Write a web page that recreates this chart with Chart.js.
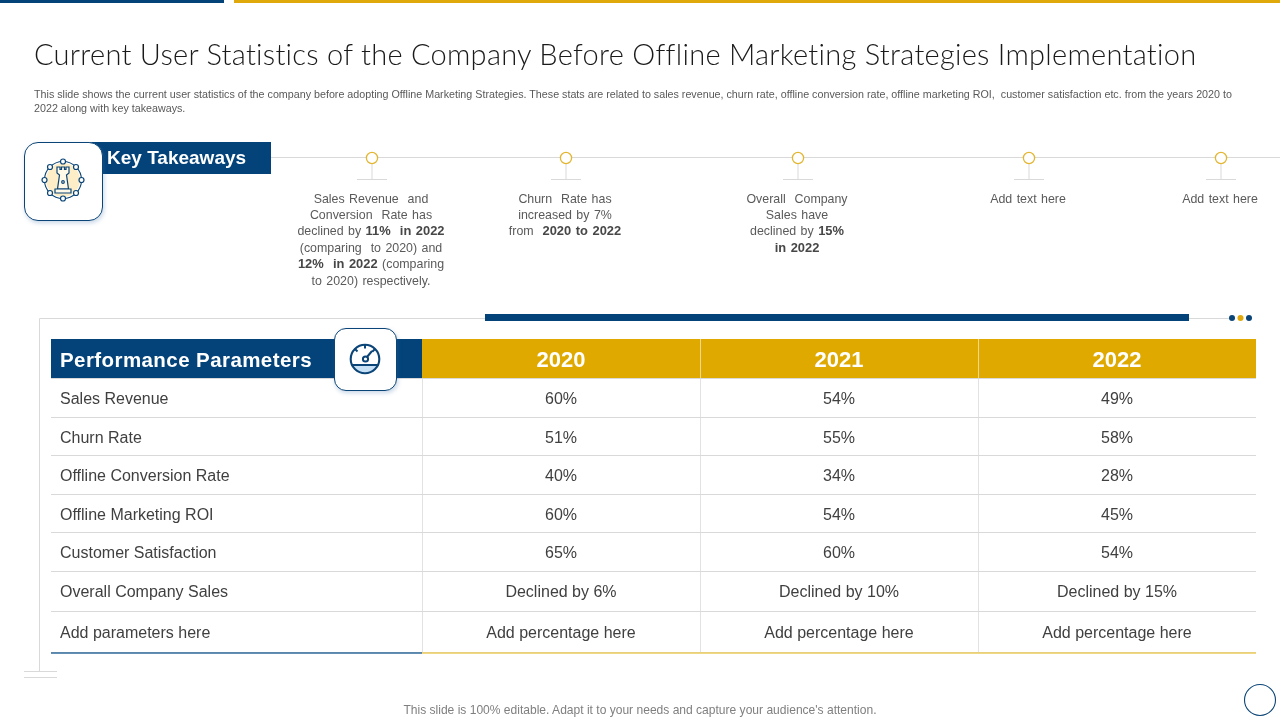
<!DOCTYPE html>
<html><head><meta charset="utf-8">
<script src="https://cdn.jsdelivr.net/npm/chart.js@4"></script>
<style>
html,body{margin:0;padding:0;background:#fff;width:1280px;height:720px;overflow:hidden;font-family:"Liberation Sans",Arial,sans-serif}
#c{position:absolute;left:0;top:0;width:1280px;height:720px}
.a{position:absolute}
.t{position:absolute;white-space:nowrap}
.take{position:absolute;top:190.5px;width:220px;margin-left:-110px;text-align:center;font-size:12.4px;line-height:16.4px;color:#5a5a5a;word-spacing:1px;white-space:nowrap}
.take b{color:#474747;font-size:12.9px}
.box{position:absolute;box-sizing:border-box;background:#fff;border:1px solid #0b4577;box-shadow:1px 2px 4px rgba(60,110,170,.28)}
</style></head><body>
<canvas id="c" width="1280" height="720"></canvas>

<div class="a" style="left:0;top:0;width:224px;height:3px;background:#03437a"></div>
<div class="a" style="left:234px;top:0;width:1046px;height:3px;background:#dfa90c"></div>
<div class="t" id="title" style="left:34px;top:37px;font-family:Lato,sans-serif;font-weight:300;font-size:29px;letter-spacing:.27px;line-height:34px;color:#1a1a1a">Current User Statistics of the Company Before Offline Marketing Strategies Implementation</div>
<div class="t" style="left:34px;top:88px;font-size:10.72px;line-height:13.5px;color:#595959">This slide shows the current user statistics of the company before adopting Offline Marketing Strategies. These stats are related to sales revenue, churn rate, offline conversion rate, offline marketing ROI,&nbsp; customer satisfaction etc. from the years 2020 to<br>2022 along with key takeaways.</div>

<svg class="a" style="left:0;top:130px" width="1280" height="60">
<line x1="271" y1="27.5" x2="1280" y2="27.5" stroke="#d9d9d9"/>
<g fill="none" stroke="#d9d9d9">
<path d="M372 33V49.5M357 49.5H387M566 33V49.5M551 49.5H581M798 33V49.5M783 49.5H813M1029 33V49.5M1014 49.5H1044M1221 33V49.5M1206 49.5H1236"/>
</g>
<g fill="#fff" stroke="#e3b632" stroke-width="1.3">
<circle cx="372" cy="28" r="5.6"/><circle cx="566" cy="28" r="5.6"/><circle cx="798" cy="28" r="5.6"/><circle cx="1029" cy="28" r="5.6"/><circle cx="1221" cy="28" r="5.6"/>
</g></svg>

<div class="a" style="left:90px;top:142px;width:181px;height:32px;background:#03437a"></div>
<div class="t" style="left:107px;top:146px;font-weight:700;font-size:19px;line-height:24px;color:#fff">Key Takeaways</div>
<div class="box" style="left:24px;top:142px;width:79px;height:79px;border-radius:14px"></div>
<svg class="a" style="left:34px;top:151px" width="58" height="58" viewBox="0 0 58 58">
<circle cx="29" cy="29" r="17" fill="#fdeec8"/>
<circle cx="29" cy="29" r="18.5" fill="none" stroke="#0b4577" stroke-width="1.1"/>
<g fill="#fff" stroke="#0b4577" stroke-width="1.2">
<circle cx="29" cy="10.5" r="2.5"/><circle cx="42" cy="16" r="2.5"/><circle cx="47.5" cy="29" r="2.5"/><circle cx="42" cy="42" r="2.5"/><circle cx="29" cy="47.5" r="2.5"/><circle cx="16" cy="42" r="2.5"/><circle cx="10.5" cy="29" r="2.5"/><circle cx="16" cy="16" r="2.5"/>
<path d="M23 16H26V18.5H27.5V16H30.5V18.5H32V16H35V22L32.5 24L34.5 38H23.5L25.5 24L23 22Z" fill="#fff9e8"/>
<path d="M21 38H37V42H21Z" fill="#fff9e8"/>
<circle cx="29" cy="31" r="1.3"/>
</g></svg>

<div class="take" style="left:371px">Sales Revenue&nbsp; and<br>Conversion&nbsp; Rate has<br>declined by <b>11%&nbsp; in 2022</b><br>(comparing&nbsp; to 2020) and<br><b>12%&nbsp; in 2022</b> (comparing<br>to 2020) respectively.</div>
<div class="take" style="left:565px">Churn&nbsp; Rate has<br>increased by 7%<br>from&nbsp; <b>2020 to 2022</b></div>
<div class="take" style="left:797px">Overall&nbsp; Company<br>Sales have<br>declined by <b>15%</b><br><b>in 2022</b></div>
<div class="take" style="left:1028px">Add text here</div>
<div class="take" style="left:1220px">Add text here</div>

<svg class="a" style="left:0;top:305px" width="1280" height="380">
<g fill="none" stroke="#d9d9d9">
<path d="M39.5 366V13.5H1230M24 366.5H57M24 372.5H57"/>
</g>
<rect x="485" y="9" width="704" height="7" fill="#03437a"/>
<circle cx="1232" cy="13" r="3" fill="#0b4577"/><circle cx="1240.5" cy="13" r="3" fill="#dfa90c"/><circle cx="1249" cy="13" r="3" fill="#0b4577"/>
</svg>

<div class="t" id="pp" style="left:60px;top:347px;font-weight:700;font-size:20.5px;line-height:26px;color:#fff;letter-spacing:.42px">Performance Parameters</div>
<div class="box" style="left:334px;top:328px;width:63px;height:63px;border-radius:12px"></div>
<svg class="a" style="left:347px;top:341px" width="36" height="36" viewBox="0 0 36 36">
<path d="M5 24A15 15 0 0 0 31 24Z" fill="#c6e0f5"/>
<circle cx="18" cy="18" r="14.3" fill="none" stroke="#0b4577" stroke-width="2.1"/>
<path d="M4.5 24H31.5M18 4V7.5M8 8L10.5 10.5M28 8L25.5 10.5M20 16L25 10" fill="none" stroke="#0b4577" stroke-width="2"/>
<circle cx="18.5" cy="18" r="2.6" fill="#fff" stroke="#0b4577" stroke-width="2"/>
</svg>

<svg class="a" style="left:1240px;top:680px" width="40" height="40"><circle cx="20" cy="20" r="15.5" fill="#fff" stroke="#0b4577" stroke-width="1.1"/></svg>
<div class="t" style="left:0;width:1280px;top:703px;text-align:center;font-size:12.05px;line-height:15px;color:#7f7f7f">This slide is 100% editable. Adapt it to your needs and capture your audience's attention.</div>

<script>
const years = ['2020', '2021', '2022'];
const parameters = ['Sales Revenue', 'Churn Rate', 'Offline Conversion Rate', 'Offline Marketing ROI', 'Customer Satisfaction', 'Overall Company Sales', 'Add parameters here'];
const values2020 = ['60%', '51%', '40%', '60%', '65%', 'Declined by 6%', 'Add percentage here'];
const values2021 = ['54%', '55%', '34%', '54%', '60%', 'Declined by 10%', 'Add percentage here'];
const values2022 = ['49%', '58%', '28%', '45%', '54%', 'Declined by 15%', 'Add percentage here'];
const rowWeights = [39, 39, 38, 39, 38, 40, 42];

const NAVY = '#03437a', GOLD = '#dfa900', RULE = '#d9d9d9';

class WeightedCategory extends Chart.CategoryScale {
  getPixelForValue(value, index) {
    const i = typeof value === 'number' ? value : this.parse(value, index);
    const total = rowWeights.reduce((a, b) => a + b, 0);
    let before = 0;
    for (let k = 0; k < i; k++) before += rowWeights[k];
    return this.getPixelForDecimal((before + rowWeights[i] / 2) / total);
  }
}
WeightedCategory.id = 'weightedCategory';
WeightedCategory.defaults = Chart.CategoryScale.defaults;
Chart.register(WeightedCategory);

const tableFrame = {
  id: 'tableFrame',
  beforeDraw(chart) {
    const { ctx, scales: { x, y } } = chart;
    ctx.save();
    ctx.fillStyle = NAVY;
    ctx.fillRect(y.left - 9, x.top, x.left - y.left + 9, x.height);
    ctx.fillStyle = GOLD;
    ctx.fillRect(x.left, x.top, x.width, x.height);
    ctx.strokeStyle = 'rgba(255,255,255,.55)';
    ctx.lineWidth = 1;
    [0.5, 1.5].forEach(k => {
      const px = Math.round(x.getPixelForValue(k)) + 0.5;
      ctx.beginPath(); ctx.moveTo(px, x.top); ctx.lineTo(px, x.bottom); ctx.stroke();
    });
    ctx.restore();
  },
  afterDraw(chart) {
    const { ctx, scales: { x, y } } = chart;
    ctx.save();
    ctx.lineWidth = 1.4;
    ctx.strokeStyle = '#2f6a9c';
    ctx.beginPath(); ctx.moveTo(y.left - 9, y.bottom); ctx.lineTo(x.left, y.bottom); ctx.stroke();
    ctx.strokeStyle = '#eccb5d';
    ctx.beginPath(); ctx.moveTo(x.left, y.bottom); ctx.lineTo(x.right, y.bottom); ctx.stroke();
    ctx.restore();
  }
};

const cellText = {
  id: 'cellText',
  afterDatasetsDraw(chart) {
    const ctx = chart.ctx;
    ctx.save();
    ctx.font = '16px "Liberation Sans", Arial, sans-serif';
    ctx.fillStyle = '#404040';
    ctx.textAlign = 'center';
    ctx.textBaseline = 'middle';
    chart.data.datasets.forEach((ds, d) => {
      chart.getDatasetMeta(d).data.forEach((pt, i) => ctx.fillText(ds.cellLabels[i], pt.x, pt.y + 2));
    });
    ctx.restore();
  }
};

const makeSeries = (year, labels) => ({
  label: year,
  cellLabels: labels,
  data: parameters.map(p => ({ x: year, y: p })),
  pointRadius: 0,
  showLine: false
});

new Chart(document.getElementById('c'), {
  type: 'scatter',
  data: { datasets: [makeSeries(years[0], values2020), makeSeries(years[1], values2021), makeSeries(years[2], values2022)] },
  plugins: [tableFrame, cellText],
  options: {
    responsive: false,
    animation: false,
    devicePixelRatio: 1,
    layout: { padding: { left: 60, right: 24, top: 339, bottom: 67 } },
    plugins: { legend: { display: false }, tooltip: { enabled: false }, title: { display: false } },
    scales: {
      x: {
        type: 'category', labels: years, position: 'top', offset: true,
        afterFit(s) { s.height = 39; },
        border: { display: false },
        grid: { offset: true, drawTicks: false, color: c => c.tick ? '#e2e2e2' : 'rgba(0,0,0,0)', lineWidth: 1 },
        ticks: { color: '#fff', padding: 4, maxRotation: 0, font: { family: '"Liberation Sans", Arial, sans-serif', size: 22, weight: 'bold' } }
      },
      y: {
        type: 'weightedCategory', labels: parameters, position: 'left', offset: true,
        afterFit(s) { s.width = 362; },
        border: { display: false },
        grid: { offset: true, drawTicks: true, tickLength: 371, tickColor: RULE, color: RULE, lineWidth: 1 },
        ticks: { crossAlign: 'far', autoSkip: false, padding: 0, labelOffset: 2, color: '#404040', font: { family: '"Liberation Sans", Arial, sans-serif', size: 16 } }
      }
    }
  }
});
</script>
</body></html>
